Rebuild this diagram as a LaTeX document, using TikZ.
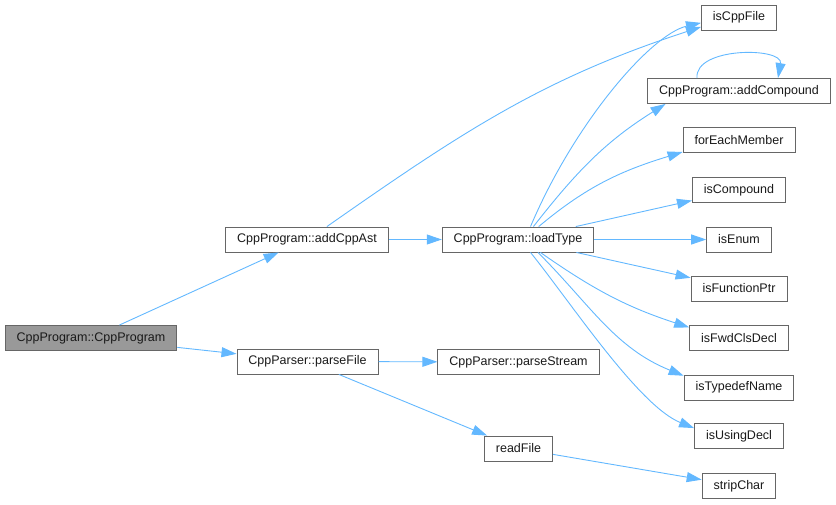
\documentclass[tikz,border=0pt]{standalone}
\usepackage{fontspec}
\setmainfont{Liberation Sans}
\usetikzlibrary{arrows.meta}
\definecolor{edgeblue}{HTML}{63B8FF}
\definecolor{boxgray}{HTML}{666666}
\definecolor{rootgray}{HTML}{999999}

\begin{document}
\begin{tikzpicture}[x=1pt,y=1pt]
\tikzstyle{every node}=[draw=boxgray,line width=0.9pt,minimum height=25pt,inner xsep=11.5pt,inner ysep=0pt,font=\fontsize{12.5}{14}\selectfont,text=black!90];
\tikzstyle{call}=[-{Triangle[length=15pt,width=10pt]},edgeblue,line width=0.9pt];

  \useasboundingbox (0,0) rectangle (836,-504);

  \node[fill=rootgray] (cppprogram) at (91,-338) {CppProgram::CppProgram};
  \node (addcppast) at (307,-239.5) {CppProgram::addCppAst};
  \node (parsefile) at (307.5,-361.5) {CppParser::parseFile};
  \node (loadtype) at (518,-239.5) {CppProgram::loadType};
  \node (parsestream) at (518.5,-362) {CppParser::parseStream};
  \node (readfile) at (518.5,-448.5) {readFile};
  \node (iscppfile) at (739,-17.5) {isCppFile};
  \node (addcompound) at (739,-91) {CppProgram::addCompound};
  \node (foreachmember) at (739,-140) {forEachMember};
  \node (iscompound) at (739,-190) {isCompound};
  \node (isenum) at (739,-239.5) {isEnum};
  \node (isfunctionptr) at (739,-288.5) {isFunctionPtr};
  \node (isfwdclsdecl) at (739,-338) {isFwdClsDecl};
  \node (istypedefname) at (739,-387.5) {isTypedefName};
  \node (isusingdecl) at (739,-436) {isUsingDecl};
  \node (stripchar) at (739,-486) {stripChar};

  \foreach \from/\to in {cppprogram/addcppast, cppprogram/parsefile, addcppast/loadtype, loadtype/iscompound, loadtype/isenum, loadtype/isfunctionptr, parsefile/parsestream, parsefile/readfile, readfile/stripchar}
\draw [call] (\from) -- (\to);

  \foreach \from/\to/\o/\i in {addcppast.33/iscppfile.194/35/198, loadtype.40/addcompound.190/52/212, loadtype.32/foreachmember.192/40/197, loadtype.330/isfwdclsdecl.168/-35/162, loadtype.327/istypedefname.168/-45/158}
\draw [call] (\from) to[out=\o,in=\i] (\to);

  \draw [call] (loadtype.46) to[out=67,in=193,out distance=114pt,in distance=51pt] (iscppfile.188);
  \draw [call] (loadtype.314) to[out=-51,in=158,out distance=63pt,in distance=60pt] (isusingdecl.170);
  \draw [call] ([xshift=-42pt]addcompound.north) to[out=95,in=80] ([xshift=39pt]addcompound.north);

\end{tikzpicture}
\end{document}
